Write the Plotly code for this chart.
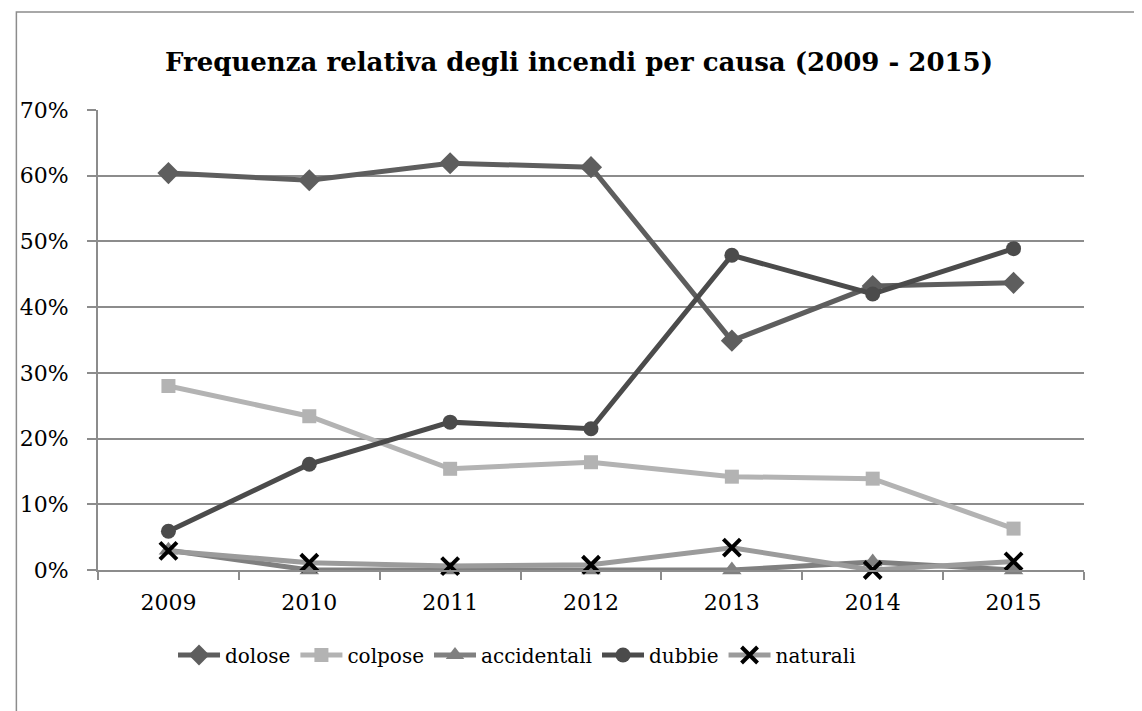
import plotly.graph_objects as go

years = ["2009", "2010", "2011", "2012", "2013", "2014", "2015"]
dolose = [60.4, 59.3, 61.9, 61.3, 34.9, 43.2, 43.7]
colpose = [28.0, 23.4, 15.4, 16.4, 14.2, 13.9, 6.3]
accidentali = [3.0, 0.0, 0.0, 0.0, 0.0, 1.2, 0.0]
dubbie = [5.9, 16.1, 22.5, 21.5, 47.9, 42.0, 48.9]
naturali = [2.9, 1.1, 0.6, 0.8, 3.4, 0.0, 1.3]
y_ticks = [0, 10, 20, 30, 40, 50, 60, 70]
y_labels = [f"{v}%" for v in y_ticks]

FONT = "DejaVu Serif"

series = [
    ("dolose", dolose, "#5e5e5e", dict(symbol="diamond", size=17, color="#5e5e5e")),
    ("colpose", colpose, "#b3b3b3", dict(symbol="square", size=14, color="#b3b3b3")),
    ("accidentali", accidentali, "#808080", dict(symbol="triangle-up", size=17, color="#808080")),
    ("dubbie", dubbie, "#4b4b4b", dict(symbol="circle", size=15, color="#4b4b4b")),
    ("naturali", naturali, "#9b9b9b", dict(symbol="x-thin", size=17, color="#000000",
                                          line=dict(width=4, color="#000000"))),
]

fig = go.Figure()
for name, vals, col, mk in series:
    fig.add_trace(go.Scatter(
        x=years, y=vals, name=name, mode="lines+markers",
        line=dict(color=col, width=5), marker=mk, cliponaxis=False,
    ))

# page has an 8px body margin: figure coords = page coords - 8
W, H = 1134, 703
fig.update_layout(
    width=W, height=H,
    margin=dict(l=83, r=58, t=102, b=141),
    paper_bgcolor="white", plot_bgcolor="white",
    font=dict(family=FONT, color="#000000"),
    title=dict(text="<b>Frequenza relativa degli incendi per causa (2009 - 2015)</b>",
               x=(579 - 8) / W, xref="container", xanchor="center",
               y=1 - (62 - 8) / H, yref="container", yanchor="middle",
               font=dict(family=FONT, size=26, color="#000000")),
    showlegend=True,
    legend=dict(orientation="h", x=(513 - 91) / 993, xanchor="center",
                y=(570 - 655) / 460, yanchor="middle",
                font=dict(family=FONT, size=20, color="#000000"),
                itemwidth=42, tracegroupgap=0),
    shapes=[dict(type="rect", xref="paper", yref="paper",
                 x0=(8.8 - 91) / 993, x1=1.2, y0=-0.4, y1=(570 - 12) / 460,
                 line=dict(color="#8c8c8c", width=1.5), fillcolor="rgba(0,0,0,0)", layer="below")],
)

fig.update_xaxes(
    type="category", range=[-0.5, 6.5],
    showline=True, linecolor="#8c8c8c", linewidth=2,
    ticks="outside", tickson="boundaries", ticklen=8, tickcolor="#8c8c8c", tickwidth=1.5,
    ticklabelstandoff=12,
    showgrid=False, tickfont=dict(family=FONT, size=22, color="#000000"),
)
fig.update_yaxes(
    range=[0, 70], tickvals=y_ticks, ticktext=y_labels,
    showline=True, linecolor="#8c8c8c", linewidth=2,
    showgrid=True, gridcolor="#8c8c8c", gridwidth=1.5, zeroline=False,
    ticks="outside", ticklen=9, tickcolor="#8c8c8c", tickwidth=1.5,
    ticklabelstandoff=14,
    tickfont=dict(family=FONT, size=22, color="#000000"),
)

fig.write_html("out.html")
